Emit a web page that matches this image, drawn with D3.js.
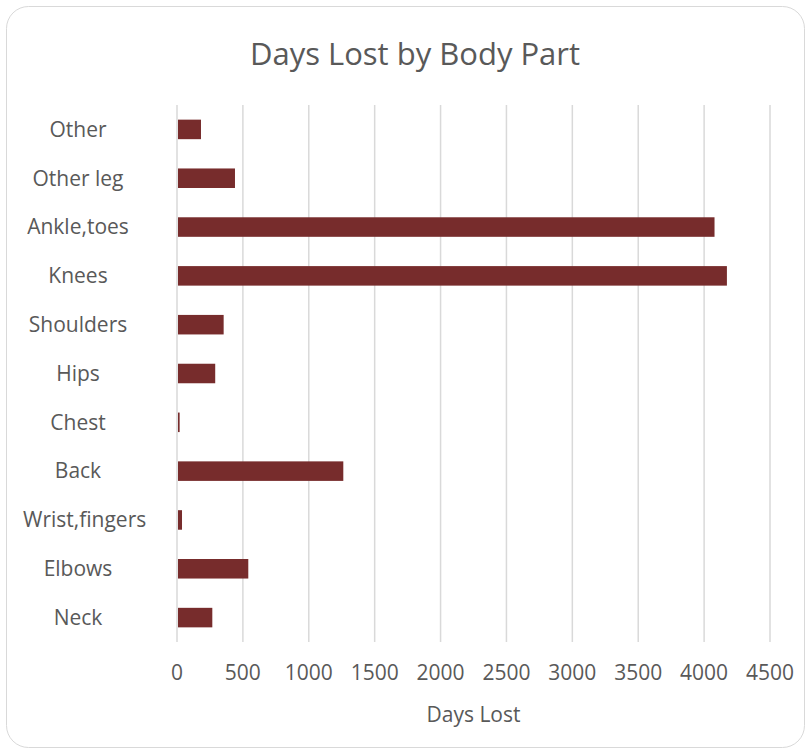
<!DOCTYPE html>
<html>
<head>
<meta charset="utf-8">
<script src="https://cdn.jsdelivr.net/npm/d3@7"></script>
<style>
  html, body { margin: 0; padding: 0; background: #ffffff; }
  svg { display: block; }
  text { font-family: "Open Sans", "Liberation Sans", sans-serif; fill: #595959; }
</style>
</head>
<body>
<svg id="chart" width="812" height="754"></svg>
<script>
const categories = ["Other", "Other leg", "Ankle,toes", "Knees", "Shoulders", "Hips", "Chest", "Back", "Wrist,fingers", "Elbows", "Neck"];
const values = [182, 440, 4079, 4173, 354, 290, 20, 1262, 38, 541, 268];
const xTicks = [0, 500, 1000, 1500, 2000, 2500, 3000, 3500, 4000, 4500];
const title = "Days Lost by Body Part";
const xTitle = "Days Lost";

const svg = d3.select("#chart");

svg.append("rect")
  .attr("x", 6.5).attr("y", 6.5)
  .attr("width", 798).attr("height", 741)
  .attr("rx", 22).attr("ry", 22)
  .attr("fill", "#ffffff")
  .attr("stroke", "#d9d9d9")
  .attr("stroke-width", 1);

const plotLeft = 177, plotRight = 770, plotTop = 105, plotBottom = 642;

const x = d3.scaleLinear().domain([0, 4500]).range([plotLeft, plotRight]);
const y = d3.scaleBand().domain(categories).range([plotTop, plotBottom]).paddingInner(0.6).paddingOuter(0.3);

// gridlines
svg.append("g").selectAll("line")
  .data(xTicks)
  .join("line")
  .attr("x1", d => x(d)).attr("x2", d => x(d))
  .attr("y1", plotTop).attr("y2", plotBottom)
  .attr("stroke", "#d9d9d9")
  .attr("stroke-width", 1.5);

// bars
svg.append("g").selectAll("rect")
  .data(categories)
  .join("rect")
  .attr("x", x(0) + 1)
  .attr("y", d => y(d))
  .attr("width", (d, i) => Math.max(0, x(values[i]) - x(0) - 1))
  .attr("height", y.bandwidth())
  .attr("fill", "#772c2c");

// category labels (centred, but kept inside the label area)
const labelCenter = 78, labelAreaLeft = 23;
svg.append("g").selectAll("text")
  .data(categories)
  .join("text")
  .attr("x", labelCenter)
  .attr("y", d => y(d) + y.bandwidth() / 2)
  .attr("dy", "0.35em")
  .attr("text-anchor", "middle")
  .style("font-size", "21px")
  .text(d => d)
  .each(function() {
    const w = this.getComputedTextLength();
    if (labelCenter - w / 2 < labelAreaLeft) {
      d3.select(this).attr("x", labelAreaLeft + w / 2);
    }
  });

// x tick labels
svg.append("g").selectAll("text")
  .data(xTicks)
  .join("text")
  .attr("x", d => x(d))
  .attr("y", 680)
  .attr("text-anchor", "middle")
  .style("font-size", "21px")
  .text(d => d);

// axis title
svg.append("text")
  .attr("x", (plotLeft + plotRight) / 2)
  .attr("y", 722)
  .attr("text-anchor", "middle")
  .style("font-size", "21px")
  .text(xTitle);

// chart title
svg.append("text")
  .attr("x", 415)
  .attr("y", 65)
  .attr("text-anchor", "middle")
  .style("font-size", "31px")
  .text(title);
</script>
</body>
</html>
